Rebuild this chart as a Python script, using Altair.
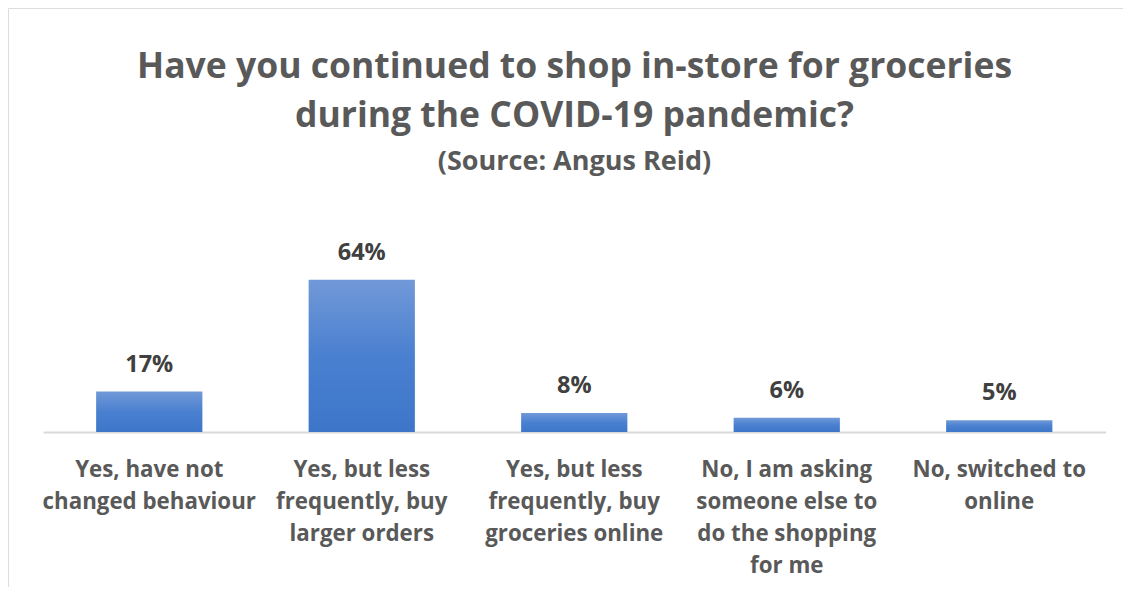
import altair as alt
import pandas as pd

categories = [
    "Yes, have not|changed behaviour",
    "Yes, but less|frequently, buy|larger orders",
    "Yes, but less|frequently, buy|groceries online",
    "No, I am asking|someone else to|do the shopping|for me",
    "No, switched to|online",
]
values = [17, 64, 8, 6, 5]
labels = ["17%", "64%", "8%", "6%", "5%"]

df = pd.DataFrame({"cat": categories, "val": values, "lab": labels})

GRAY = "#595959"
FONT = "Open Sans"

x_enc = alt.X(
    "cat:N",
    sort=categories,
    title=None,
    scale=alt.Scale(range=[35, 1097.5], paddingInner=0.5, paddingOuter=0.25),
    axis=alt.Axis(
        orient="bottom",
        offset=-155,
        labelAngle=0,
        labelExpr="split(datum.label, '|')",
        labelFont=FONT,
        labelFontSize=22.3,
        labelFontWeight="bold",
        labelColor=GRAY,
        labelLineHeight=32,
        labelPadding=26,
        labelLimit=400,
        ticks=False,
        domainColor="#d9d9d9",
        domainWidth=2,
        grid=False,
    ),
)
y_scale = alt.Scale(domain=[-65.1, 178.2], nice=False, zero=False)

gradient = alt.Gradient(
    gradient="linear",
    x1=0, y1=0, x2=0, y2=1,
    stops=[
        alt.GradientStop(offset=0, color="#7199d8"),
        alt.GradientStop(offset=0.5, color="#4a80d0"),
        alt.GradientStop(offset=1, color="#3d76c9"),
    ],
)

bars = alt.Chart(df).mark_bar(color=gradient).encode(
    x=x_enc,
    y=alt.Y("val:Q", scale=y_scale, axis=None),
    y2=alt.datum(0),
)

text = alt.Chart(df).mark_text(
    baseline="alphabetic", dy=-20, font=FONT, fontSize=23.5, fontWeight="bold", color="#404040"
).encode(
    x=alt.X("cat:N", sort=categories),
    y=alt.Y("val:Q", scale=y_scale),
    text="lab:N",
)

chart = (
    alt.layer(bars, text)
    .properties(
        width=1115,
        height=579,
        padding=0,
        title=alt.TitleParams(
            text=["Have you continued to shop in-store for groceries", "during the COVID-19 pandemic?"],
            subtitle="(Source: Angus Reid)",
            font=FONT,
            fontSize=35.5,
            fontWeight="bold",
            color=GRAY,
            lineHeight=49,
            subtitleFont=FONT,
            subtitleFontSize=27,
            subtitleFontWeight="bold",
            subtitleColor=GRAY,
            subtitlePadding=15,
            anchor="middle",
            frame="group",
            dx=9,
            offset=-167,
        ),
    )
    .configure_view(stroke="#dddddd", strokeWidth=2, fill="white")
    .configure(background="white")
)

chart.save("out.html", embed_options={"renderer": "svg", "actions": False})
